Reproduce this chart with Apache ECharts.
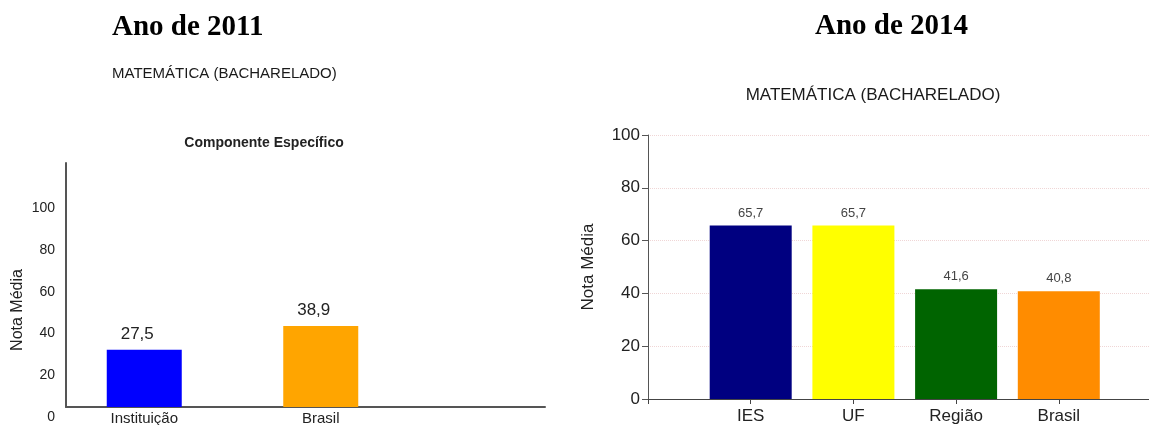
<!DOCTYPE html>
<html>
<head>
<meta charset="utf-8">
<script src="https://cdn.jsdelivr.net/npm/echarts@6/dist/echarts.min.js"></script>
<style>
  html, body { margin: 0; padding: 0; background: #fff; }
  #chart { width: 1149px; height: 425px; }
</style>
</head>
<body>
<div id="chart"></div>
<script>
// 2011 panel: specific component scores
const categories2011 = ['Instituição', 'Brasil'];
const values2011 = [27.5, 38.9];
const colors2011 = ['#0000ff', '#ffa500'];

// 2014 panel: mean scores by comparison group
const categories2014 = ['IES', 'UF', 'Região', 'Brasil'];
const values2014 = [65.7, 65.7, 41.6, 40.8];
const colors2014 = ['#000080', '#ffff00', '#006400', '#ff8c00'];

const yTicks = [0, 20, 40, 60, 80, 100];

const SANS = "'Liberation Sans', Arial, sans-serif";
const SERIF = "'Liberation Serif', 'Times New Roman', serif";
const fmt = v => v.toFixed(1).replace('.', ',');

const chart = echarts.init(document.getElementById('chart'), null, { renderer: 'canvas' });

const option = {
  animation: false,
  backgroundColor: '#ffffff',
  textStyle: { fontFamily: SANS },
  graphic: [
    { type: 'text', x: 112, y: 28, style: { text: 'Ano de 2011', font: 'bold 29px ' + SERIF, fill: '#000', textAlign: 'left', textVerticalAlign: 'middle' } },
    { type: 'text', x: 815, y: 27, style: { text: 'Ano de 2014', font: 'bold 29px ' + SERIF, fill: '#000', textAlign: 'left', textVerticalAlign: 'middle' } },
    { type: 'text', x: 112, y: 74, style: { text: 'MATEMÁTICA (BACHARELADO)', font: '15px ' + SANS, fill: '#1a1a1a', textAlign: 'left', textVerticalAlign: 'middle' } },
    { type: 'text', x: 264, y: 143, style: { text: 'Componente Específico', font: 'bold 14px ' + SANS, fill: '#222', textAlign: 'center', textVerticalAlign: 'middle' } },
    { type: 'text', x: 873, y: 95, style: { text: 'MATEMÁTICA (BACHARELADO)', font: '17px ' + SANS, fill: '#1a1a1a', textAlign: 'center', textVerticalAlign: 'middle' } }
  ],
  grid: [
    // 2011 axes frame
    { left: 66, top: 163, width: 479, bottom: 18, outerBoundsMode: 'none' },
    // 2011 bar placement
    { left: 56, top: 163, width: 353, bottom: 18, outerBoundsMode: 'none' },
    // 2014 chart (axis runs past the right edge of the canvas)
    { left: 648, top: 135, width: 513.5, bottom: 26, outerBoundsMode: 'none' }
  ],
  xAxis: [
    {
      gridIndex: 0, type: 'category', data: [''],
      axisLine: { show: true, lineStyle: { color: '#555', width: 2 } },
      axisTick: { show: false }, axisLabel: { show: false }
    },
    {
      gridIndex: 1, type: 'category', data: categories2011,
      axisLine: { show: false }, axisTick: { show: false },
      axisLabel: { fontSize: 15, color: '#222', margin: 4, fontFamily: SANS }
    },
    {
      gridIndex: 2, type: 'category', boundaryGap: false,
      data: [''].concat(categories2014, ['']),
      axisLine: { show: true, lineStyle: { color: '#444', width: 1 } },
      axisTick: { show: true, length: 5, lineStyle: { color: '#444' } },
      axisLabel: { fontSize: 17, color: '#222', margin: 9, fontFamily: SANS }
    }
  ],
  yAxis: [
    {
      gridIndex: 0, type: 'value', min: 0, max: 117, interval: 20,
      name: 'Nota Média', nameLocation: 'middle', nameGap: 40,
      nameTextStyle: { fontSize: 16, color: '#222', fontFamily: SANS, padding: [0, 50, 0, 0] },
      axisLine: { show: true, lineStyle: { color: '#555', width: 2 } },
      axisTick: { show: false },
      splitLine: { show: false },
      axisLabel: {
        showMaxLabel: false, fontSize: 14, color: '#222', margin: 11,
        verticalAlign: 'top', padding: [3, 0, 0, 0], fontFamily: SANS,
        formatter: v => (yTicks.indexOf(v) >= 0 ? String(v) : '')
      }
    },
    {
      gridIndex: 1, type: 'value', min: 0, max: 117,
      show: false
    },
    {
      gridIndex: 2, type: 'value', min: 0, max: 100, interval: 20,
      name: 'Nota Média', nameLocation: 'middle', nameGap: 51,
      nameTextStyle: { fontSize: 17, color: '#222', fontFamily: SANS },
      axisLine: { show: true, lineStyle: { color: '#555', width: 1 } },
      axisTick: { show: true, length: 6, lineStyle: { color: '#555' } },
      splitLine: { show: true, lineStyle: { color: '#f0d6d6', type: 'dotted', width: 1 } },
      axisLabel: { fontSize: 17, color: '#222', margin: 8, fontFamily: SANS }
    }
  ],
  series: [
    {
      type: 'bar', xAxisIndex: 1, yAxisIndex: 1, barWidth: 75,
      data: values2011.map((v, i) => ({ value: v, itemStyle: { color: colors2011[i] } })),
      label: {
        show: true, position: 'top', distance: 7, offset: [-7, 0],
        fontSize: 17, color: '#222', fontFamily: SANS,
        formatter: p => fmt(p.value)
      }
    },
    {
      type: 'bar', xAxisIndex: 2, yAxisIndex: 2, barWidth: 82,
      data: ['-'].concat(
        values2014.map((v, i) => ({ value: v, itemStyle: { color: colors2014[i] } })),
        ['-']
      ),
      label: {
        show: true, position: 'top', distance: 6,
        fontSize: 13, color: '#444', fontFamily: SANS,
        formatter: p => (typeof p.value === 'number' ? fmt(p.value) : '')
      }
    }
  ]
};

chart.setOption(option);
</script>
</body>
</html>
